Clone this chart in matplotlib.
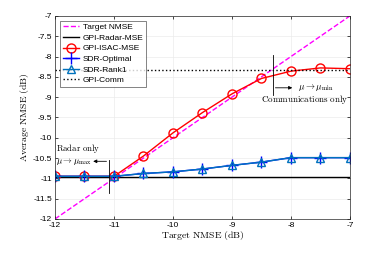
import matplotlib
matplotlib.use("Agg")
import matplotlib.pyplot as plt
import numpy as np

plt.rcParams['mathtext.fontset'] = 'cm'
plt.rcParams['font.family'] = ['Liberation Sans', 'DejaVu Sans']

target = [-12, -11.5, -11, -10.5, -10, -9.5, -9, -8.5, -8, -7.5, -7]
isac = [-10.95, -10.95, -10.95, -10.45, -9.88, -9.38, -8.92, -8.54, -8.36, -8.28, -8.30]
sdr_opt = [-10.95, -10.95, -10.95, -10.88, -10.84, -10.77, -10.68, -10.60, -10.49, -10.49, -10.49]
sdr_r1 = [-10.95, -10.95, -10.95, -10.88, -10.84, -10.77, -10.68, -10.60, -10.49, -10.49, -10.49]
radar = [-10.96] * len(target)
comm = [-8.32] * len(target)

fig = plt.figure(figsize=(3.82, 2.57), dpi=100)
ax = fig.add_axes([0.144, 0.148, 0.772, 0.79])

ax.plot(target, target, '--', color='#ff00ff', lw=1.0, label='Target NMSE')
ax.plot(target, radar, '-', color='black', lw=1.0, label='GPI-Radar-MSE')
ax.plot(target, isac, '-o', color='red', lw=1.0, ms=6.5, mfc='none', mew=1.0, label='GPI-ISAC-MSE')
ax.plot(target, sdr_opt, '-+', color='blue', lw=1.0, ms=8, mew=1.0, label='SDR-Optimal')
ax.plot(target, sdr_r1, '-^', color='#0072bd', lw=1.0, ms=6, mfc='none', mew=1.0, label='SDR-Rank1')
ax.plot(target, comm, ':', color='black', lw=1.0, label='GPI-Comm')

ax.set_xlim(-12, -7)
ax.set_ylim(-12, -7)
ax.set_xticks([-12, -11, -10, -9, -8, -7])
ax.set_yticks(np.arange(-12, -6.9, 0.5))
ax.set_xticklabels(['-12', '-11', '-10', '-9', '-8', '-7'])
ax.set_yticklabels(['-12', '-11.5', '-11', '-10.5', '-10', '-9.5', '-9', '-8.5', '-8', '-7.5', '-7'])
ax.tick_params(direction='in', top=True, right=True, labelsize=6, length=2, width=0.5, pad=2)
ax.grid(True, color='#ebebeb', lw=0.5)
for s in ax.spines.values():
    s.set_linewidth(0.5)
    s.set_color('#262626')

ax.set_xlabel(r'$\mathrm{Target\ NMSE\ (dB)}$', fontsize=7, labelpad=0)
ax.set_ylabel(r'$\mathrm{Average\ NMSE\ (dB)}$', fontsize=7, labelpad=1)

# annotations
ax.plot([-11.08, -11.08], [-10.55, -11.37], color='black', lw=0.6)
ax.annotate('', xy=(-11.4, -10.58), xytext=(-11.08, -10.58),
            arrowprops=dict(arrowstyle='-|>', color='black', lw=0.6, mutation_scale=5))
ax.text(-11.98, -10.27, r'$\mathrm{Radar\ only}$', fontsize=6.3, ha='left', va='center')
ax.text(-11.98, -10.58, r'$\mu \rightarrow \mu_{\max}$', fontsize=6.3, ha='left', va='center')

ax.plot([-8.31, -8.31], [-7.96, -8.95], color='black', lw=0.6)
ax.annotate('', xy=(-7.93, -8.77), xytext=(-8.31, -8.77),
            arrowprops=dict(arrowstyle='-|>', color='black', lw=0.6, mutation_scale=5))
ax.text(-7.88, -8.77, r'$\mu \rightarrow \mu_{\min}$', fontsize=6.5, ha='left', va='center')
ax.text(-7.02, -9.07, r'$\mathrm{Communications\ only}$', fontsize=6.5, ha='right', va='center')

leg = ax.legend(loc='upper left', fontsize=6, frameon=True, fancybox=False,
                edgecolor='#262626', handlelength=2.0, borderpad=0.35, labelspacing=0.33,
                handletextpad=0.4, borderaxespad=0.55)
leg.get_frame().set_linewidth(0.5)

fig.savefig('out.png', dpi=100)
